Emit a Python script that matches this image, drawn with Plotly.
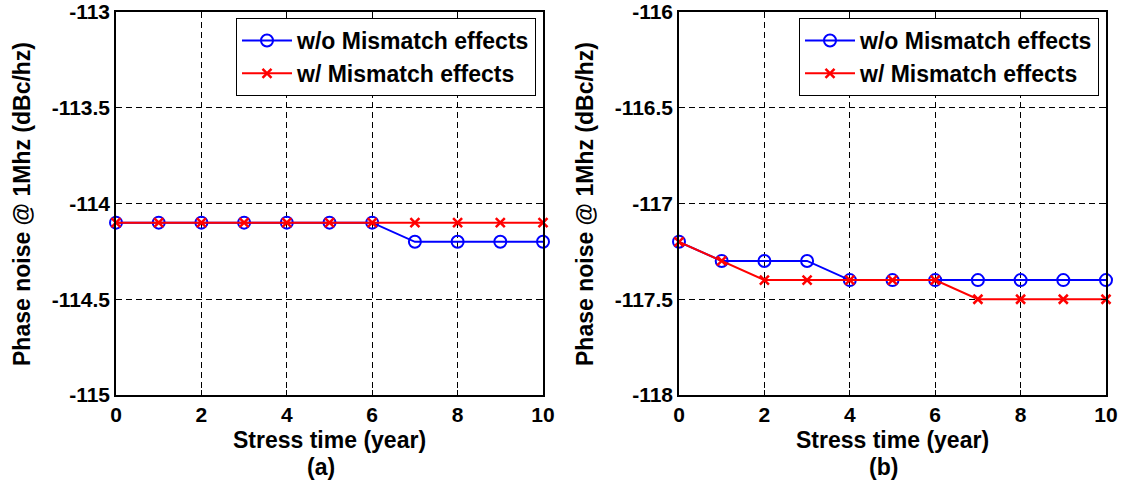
import plotly.graph_objects as go

# Stress time in years
years = [0, 1, 2, 3, 4, 5, 6, 7, 8, 9, 10]

# Panel (a): phase noise @ 1 MHz (dBc/Hz)
a_without = [-114.1, -114.1, -114.1, -114.1, -114.1, -114.1, -114.1, -114.2, -114.2, -114.2, -114.2]
a_with = [-114.1, -114.1, -114.1, -114.1, -114.1, -114.1, -114.1, -114.1, -114.1, -114.1, -114.1]

# Panel (b): phase noise @ 1 MHz (dBc/Hz)
b_without = [-117.2, -117.3, -117.3, -117.3, -117.4, -117.4, -117.4, -117.4, -117.4, -117.4, -117.4]
b_with = [-117.2, -117.3, -117.4, -117.4, -117.4, -117.4, -117.4, -117.5, -117.5, -117.5, -117.5]

series_names = ["w/o Mismatch effects", "w/ Mismatch effects"]
x_ticks = [0, 2, 4, 6, 8, 10]
a_yticks = [-115, -114.5, -114, -113.5, -113]
a_ylabels = ["-115", "-114.5", "-114", "-113.5", "-113"]
b_yticks = [-118, -117.5, -117, -116.5, -116]
b_ylabels = ["-118", "-117.5", "-117", "-116.5", "-116"]
panel_labels = ["(a)", "(b)"]
x_title = "Stress time (year)"
y_title = "Phase noise @ 1Mhz (dBc/hz)"

W, H = 1124, 486
FONT = "Liberation Sans, Arial, sans-serif"
FS = 23
TICK_FS = 21

def px_x(p):
    return p / W

def px_y(p):
    return 1 - p / H

fig = go.Figure()

panels = [
    (a_without, a_with, "x", "y", "legend"),
    (b_without, b_with, "x2", "y2", "legend2"),
]
for wo, w, xa, ya, lg in panels:
    fig.add_trace(go.Scatter(
        x=years, y=wo, name=series_names[0], xaxis=xa, yaxis=ya, legend=lg,
        mode="lines+markers", cliponaxis=False,
        line=dict(color="#0000ff", width=2),
        marker=dict(symbol="circle-open", size=12, color="#0000ff",
                    line=dict(width=2, color="#0000ff")),
    ))
    fig.add_trace(go.Scatter(
        x=years, y=w, name=series_names[1], xaxis=xa, yaxis=ya, legend=lg,
        mode="lines+markers", cliponaxis=False,
        line=dict(color="#ff0000", width=2),
        marker=dict(symbol="x-thin", size=9, color="#ff0000",
                    line=dict(width=2.5, color="#ff0000")),
    ))

tickfont = dict(family=FONT, size=TICK_FS, color="black", weight="bold")

def axis_common():
    return dict(
        showline=True, linecolor="black", linewidth=1.5, mirror="ticks",
        ticks="inside", ticklen=5, tickcolor="black", tickwidth=1,
        showgrid=True, gridcolor="black", gridwidth=1, griddash="6px,4px",
        zeroline=False, tickfont=tickfont, automargin=False,
        ticklabeloverflow="allow",
    )

xdom_a = [px_x(116), px_x(543)]
xdom_b = [px_x(679), px_x(1106)]
ydom = [px_y(395), px_y(12)]

legend_style = dict(xanchor="right", yanchor="top",
                    bgcolor="white", bordercolor="black", borderwidth=1,
                    font=dict(family=FONT, size=FS, color="black", weight="bold"),
                    itemwidth=50, tracegroupgap=0)

fig.update_layout(
    width=W, height=H,
    margin=dict(l=0, r=0, t=0, b=0),
    paper_bgcolor="white", plot_bgcolor="white",
    xaxis=dict(domain=xdom_a, anchor="y", range=[0, 10], tickvals=x_ticks, **axis_common()),
    yaxis=dict(domain=ydom, anchor="x", range=[-115, -113], tickvals=a_yticks,
               ticktext=a_ylabels, **axis_common()),
    xaxis2=dict(domain=xdom_b, anchor="y2", range=[0, 10], tickvals=x_ticks, **axis_common()),
    yaxis2=dict(domain=ydom, anchor="x2", range=[-118, -116], tickvals=b_yticks,
                ticktext=b_ylabels, **axis_common()),
    legend=dict(x=px_x(536), y=px_y(18), **legend_style),
    legend2=dict(x=px_x(1099), y=px_y(18), **legend_style),
    showlegend=True,
)

title_font = dict(family=FONT, size=FS, color="black", weight="bold")
annotations = []
for cx, lab, ycx in [((116 + 543) / 2, panel_labels[0], 22), ((679 + 1106) / 2, panel_labels[1], 585)]:
    annotations.append(dict(x=px_x(cx), y=px_y(440), xref="paper", yref="paper",
                            text=x_title, showarrow=False, font=title_font,
                            xanchor="center", yanchor="middle"))
    annotations.append(dict(x=px_x(cx - 9), y=px_y(467), xref="paper", yref="paper",
                            text=lab, showarrow=False, font=title_font,
                            xanchor="center", yanchor="middle"))
    annotations.append(dict(x=px_x(ycx), y=px_y(204), xref="paper", yref="paper",
                            text=y_title, showarrow=False, font=title_font, textangle=-90,
                            xanchor="center", yanchor="middle"))
fig.update_layout(annotations=annotations)

fig.write_html("out.html")
